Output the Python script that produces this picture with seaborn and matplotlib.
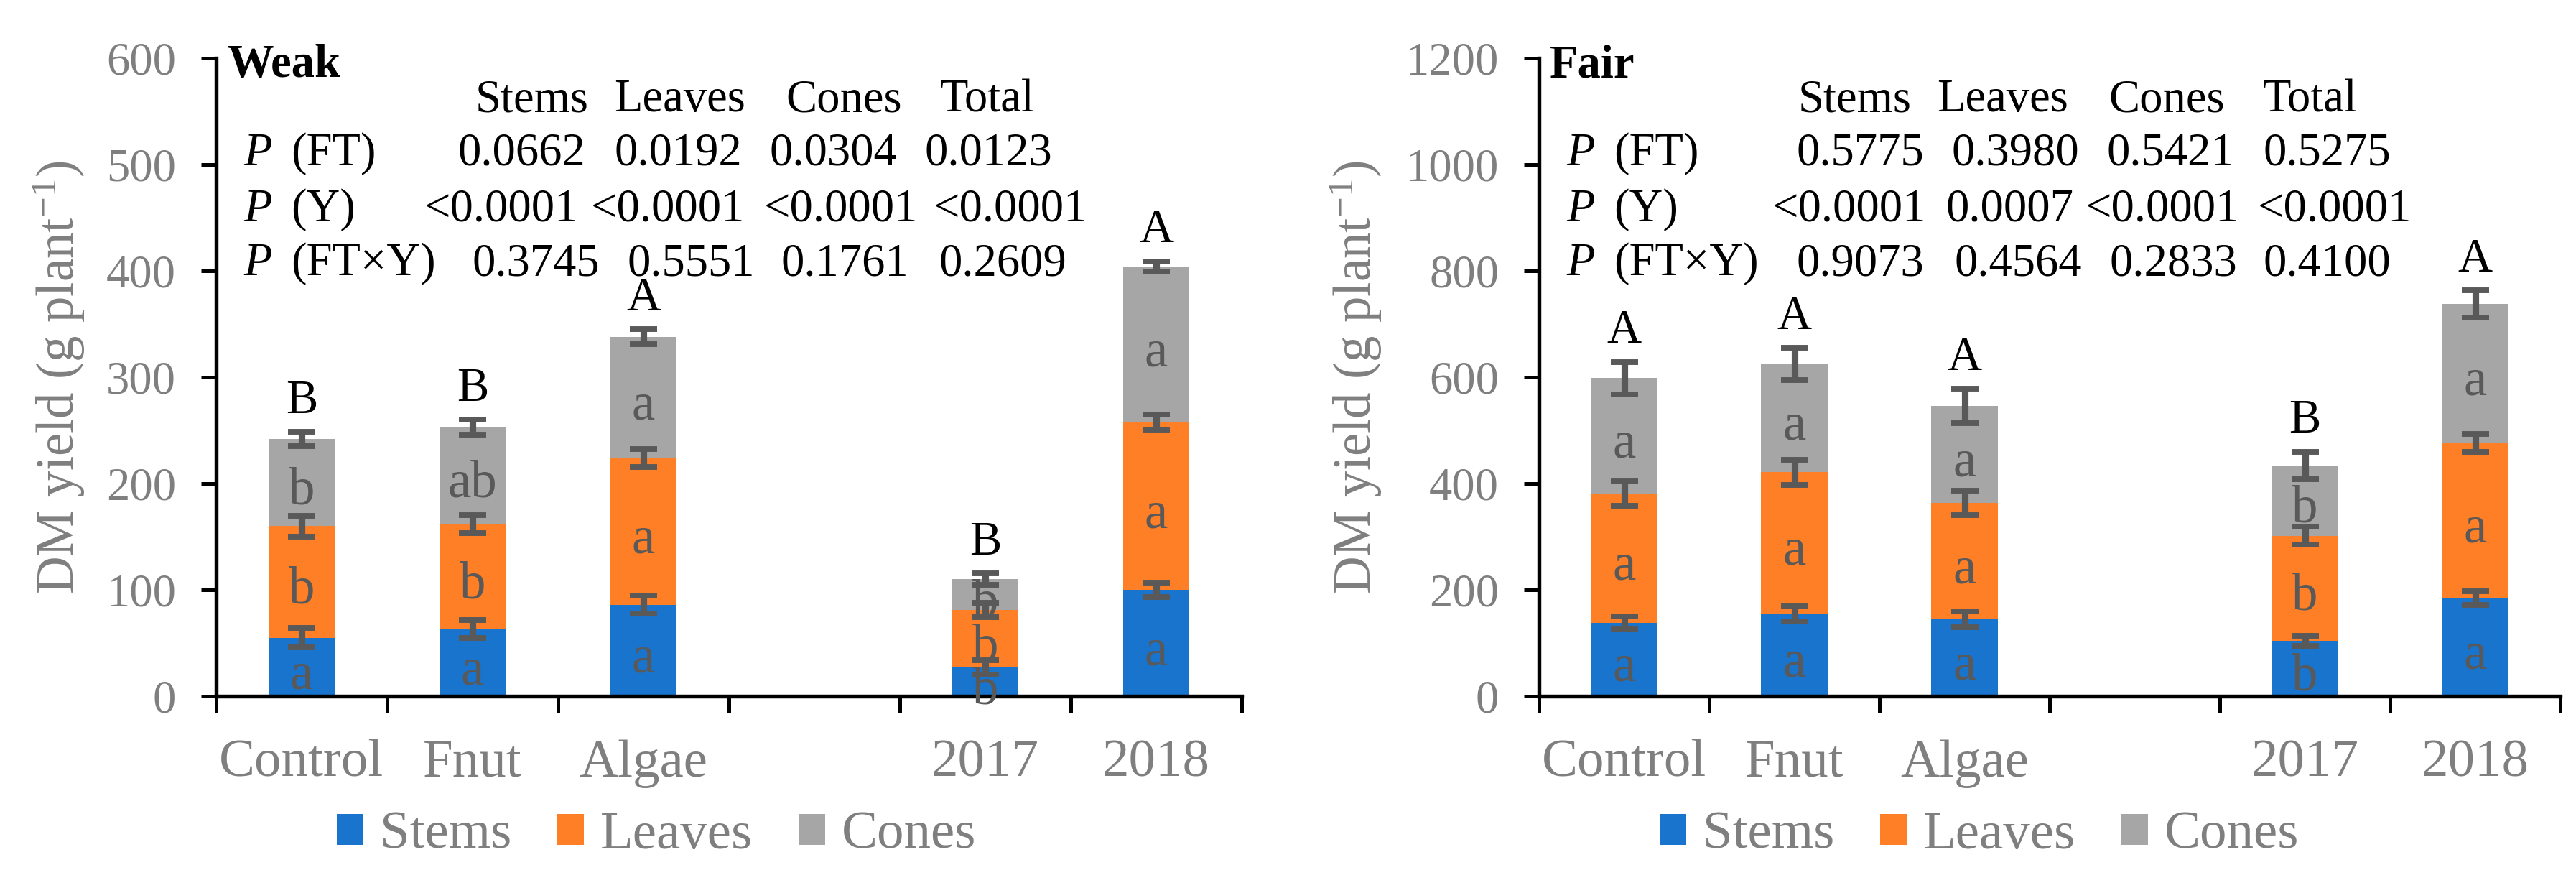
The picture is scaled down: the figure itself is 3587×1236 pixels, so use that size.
import numpy as np
import pandas as pd
import matplotlib
matplotlib.use('Agg')
import matplotlib.pyplot as plt
import seaborn as sns
from matplotlib.patches import Patch

# categorias del eje x (hueco vacio entre tratamientos y anios)
categorias = ['Control', 'Fnut', 'Algae', ' ', '2017', '2018']
grupos = ['Control', 'Fnut', 'Algae', '2017', '2018']
partes = ['Stems', 'Leaves', 'Cones']

# panel Weak (g plant-1)
weak_stems = [55, 63, 86, 27, 100]
weak_leaves = [105, 99, 138, 54, 158]
weak_cones = [82, 91, 114, 29, 146]
weak_stems_se = [9.0, 8.4, 8.4, 7.0, 6.7]
weak_leaves_se = [9.9, 8.4, 8.4, 6.9, 7.1]
weak_cones_se = [6.6, 6.9, 7.1, 5.6, 5.0]
weak_stems_let = ['a', 'a', 'a', 'b', 'a']
weak_leaves_let = ['b', 'b', 'a', 'b', 'a']
weak_cones_let = ['b', 'ab', 'a', 'b', 'a']
weak_total_let = ['B', 'B', 'A', 'B', 'A']

# panel Fair (g plant-1)
fair_stems = [138, 155, 144, 104, 184]
fair_leaves = [243, 266, 220, 198, 292]
fair_cones = [217, 204, 182, 132, 262]
fair_stems_se = [12.2, 14.3, 14.8, 9.1, 13.0]
fair_leaves_se = [22.8, 23.1, 22.8, 16.9, 16.6]
fair_cones_se = [30.9, 30.6, 31.9, 25.9, 25.4]
fair_stems_let = ['a', 'a', 'a', 'b', 'a']
fair_leaves_let = ['a', 'a', 'a', 'b', 'a']
fair_cones_let = ['a', 'a', 'a', 'b', 'a']
fair_total_let = ['A', 'A', 'A', 'B', 'A']

# tabla de valores P
tabla_cols = ['Stems', 'Leaves', 'Cones', 'Total']
tabla_filas = ['(FT)', '(Y)', '(FT\u00d7Y)']
weak_p_ft = ['0.0662', '0.0192', '0.0304', '0.0123']
weak_p_y = ['<0.0001', '<0.0001', '<0.0001', '<0.0001']
weak_p_fty = ['0.3745', '0.5551', '0.1761', '0.2609']
fair_p_ft = ['0.5775', '0.3980', '0.5421', '0.5275']
fair_p_y = ['<0.0001', '0.0007', '<0.0001', '<0.0001']
fair_p_fty = ['0.9073', '0.4564', '0.2833', '0.4100']

colores = {'Stems': '#1874CD', 'Leaves': '#FF7F27', 'Cones': '#A6A6A6'}
GRIS = '#7F7F7F'
GRIS_OSC = '#595959'

sns.set_theme(style='white')
plt.rcParams['font.family'] = ['Liberation Serif', 'DejaVu Serif']
plt.rcParams['mathtext.default'] = 'regular'

W, H = 3587, 1236
fig = plt.figure(figsize=(W / 300, H / 300), dpi=300)
Y_ABAJO, Y_ARRIBA = 969, 81
ax1 = fig.add_axes([301 / W, 1 - Y_ABAJO / H, 1428 / W, (Y_ABAJO - Y_ARRIBA) / H])
ax2 = fig.add_axes([2143 / W, 1 - Y_ABAJO / H, 1422 / W, (Y_ABAJO - Y_ARRIBA) / H])

# posiciones (px desde el eje y) de las celdas de la tabla
weak_col_x = [[336, 555, 771, 986], [290, 522, 763, 999], [356, 572, 787, 1007]]
fair_col_x = [[358, 574, 790, 1009], [325, 566, 761, 1001], [358, 578, 794, 1009]]
header_x = [361, 554, 793, 1008]
fila_y = [230, 308, 383]


def dibujar_panel(ax, ancho_px, titulo, valores, errores, letras, letras_tot,
                  ymax, paso, p_filas, col_x):
    filas = []
    for parte, vals, errs, lets in zip(partes, valores, errores, letras):
        for g, v, e, l in zip(grupos, vals, errs, lets):
            filas.append({'grupo': g, 'parte': parte, 'valor': v, 'se': e, 'letra': l})
    df = pd.DataFrame(filas)
    df['tope'] = df.groupby('grupo')['valor'].cumsum()
    df['medio'] = df['tope'] - df['valor'] / 2
    df['x'] = df['grupo'].map(categorias.index)

    # barras apiladas: primero el total, luego encima las partes inferiores
    for parte in partes[::-1]:
        sub = df[df['parte'] == parte]
        sns.barplot(data=sub, x='grupo', y='tope', order=categorias, color=colores[parte],
                    saturation=1, width=0.39, errorbar=None, linewidth=0, ax=ax, zorder=2)

    ax.errorbar(df['x'], df['tope'], yerr=df['se'], fmt='none', ecolor=GRIS_OSC,
                elinewidth=2.2, capsize=4.6, capthick=1.9, zorder=3)

    for _, r in df.iterrows():
        ax.annotate(r['letra'], (r['x'], r['medio']), xytext=(0, -7.2),
                    textcoords='offset points', ha='center', va='baseline',
                    fontsize=17.5, color=GRIS_OSC, zorder=4, annotation_clip=False)

    tot = df[df['parte'] == 'Cones']
    for (_, r), l in zip(tot.iterrows(), letras_tot):
        ax.annotate(l, (r['x'], r['tope'] + r['se']), xytext=(0, 6.3),
                    textcoords='offset points', ha='center', va='baseline',
                    fontsize=16, color='black')

    ax.set_xlim(-0.5, 5.5)
    ax.set_ylim(0, ymax)
    ax.set_yticks(np.arange(0, ymax + 1, paso))
    ax.set_xticks(np.arange(-0.5, 6, 1))
    ax.set_xticklabels([])
    ax.set_xticks([0, 1, 2, 4, 5], minor=True)
    ax.set_xticklabels(grupos, minor=True)
    ax.set_xlabel('')
    ax.set_ylabel('DM yield (g plant$^{-1}$)', fontsize=17.5, color=GRIS)
    ax.grid(False)
    for s in ['top', 'right']:
        ax.spines[s].set_visible(False)
    for s in ['left', 'bottom']:
        ax.spines[s].set_color('black')
        ax.spines[s].set_linewidth(1.3)
    ax.tick_params(axis='y', which='major', direction='out', length=5, width=1.2,
                   color='black', labelcolor=GRIS, labelsize=15.5, pad=8.4, left=True)
    ax.tick_params(axis='x', which='major', direction='out', length=5.5, width=1.2,
                   color='black', bottom=True)
    ax.tick_params(axis='x', which='minor', length=0, pad=14.5, labelsize=18,
                   labelcolor=GRIS, bottom=True)

    # tabla de valores P dentro del panel
    alto = Y_ABAJO - Y_ARRIBA
    def pos(xp, yp):
        return xp / ancho_px, (Y_ABAJO - yp) / alto
    ax.text(*pos(15, 107), titulo, transform=ax.transAxes, fontsize=15.5,
            fontweight='bold', va='baseline', ha='left', color='black')
    for c, xp in zip(tabla_cols, header_x):
        ax.text(*pos(xp, 155), c, transform=ax.transAxes, fontsize=15.5,
                va='baseline', ha='left', color='black')
    for nombre, vals, xs, yp in zip(tabla_filas, p_filas, col_x, fila_y):
        ax.text(*pos(38, yp), 'P', transform=ax.transAxes, fontsize=15.5,
                style='italic', va='baseline', ha='left', color='black')
        ax.text(*pos(104, yp), nombre, transform=ax.transAxes, fontsize=15.5,
                va='baseline', ha='left', color='black')
        for v, xp in zip(vals, xs):
            ax.text(*pos(xp, yp), v, transform=ax.transAxes, fontsize=15.5,
                    va='baseline', ha='left', color='black')

    manijas = [Patch(facecolor=colores[p], edgecolor='none') for p in partes]
    ax.legend(manijas, partes, loc='center', bbox_to_anchor=(613 / ancho_px, (Y_ABAJO - 1163) / alto),
              ncol=3, frameon=False, fontsize=18, handlelength=0.5, handleheight=0.5,
              handletextpad=0.3, columnspacing=0.85, labelcolor=GRIS)


dibujar_panel(ax1, 1428, 'Weak',
              [weak_stems, weak_leaves, weak_cones],
              [weak_stems_se, weak_leaves_se, weak_cones_se],
              [weak_stems_let, weak_leaves_let, weak_cones_let], weak_total_let,
              600, 100, [weak_p_ft, weak_p_y, weak_p_fty], weak_col_x)
dibujar_panel(ax2, 1422, 'Fair',
              [fair_stems, fair_leaves, fair_cones],
              [fair_stems_se, fair_leaves_se, fair_cones_se],
              [fair_stems_let, fair_leaves_let, fair_cones_let], fair_total_let,
              1200, 200, [fair_p_ft, fair_p_y, fair_p_fty], fair_col_x)

ax1.yaxis.set_label_coords(-0.126, 0.5)
ax2.yaxis.set_label_coords(-0.152, 0.5)

fig.savefig('out.png', dpi=300, facecolor='white')
